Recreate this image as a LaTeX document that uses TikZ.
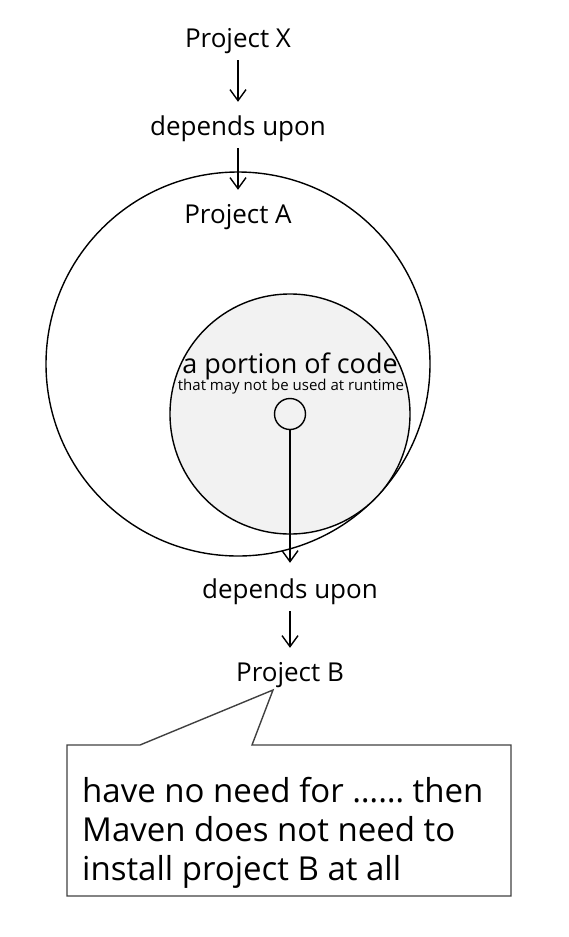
\documentclass[tikz,border=0pt]{standalone}
\usepackage{fontspec}
\setmainfont{Open Sans}
\usetikzlibrary{arrows.meta,calc}

\begin{document}
\begin{tikzpicture}[x=1pt, y=-1pt]
	% Define custom styles to make the code cleaner and more reusable.
	\tikzset{
		label/.style={inner sep=0pt, font=\fontsize{26}{30}\selectfont, text height=19pt, text depth=6pt, anchor=base},
		small/.style={inner sep=0pt, font=\fontsize{15}{18}\selectfont, anchor=base},
		proj/.style={draw, circle, line width=1.4pt, inner sep=0pt},
		line/.style={-{Straight Barb[length=11pt, width=16pt]}, line width=1.4pt, shorten <=7pt, shorten >=14pt},
		callout/.style={draw=black!75, line width=1.4pt}
	}
	\useasboundingbox (0,0) rectangle (568,937);

	% === CIRCLES ===
	\node[proj, minimum size=384pt] (projA) at (238,364) {};
	\node[proj, minimum size=240pt, fill=black!5] (portion) at (290,414) {};
	\node[proj, minimum size=31pt, fill=black!5] (code) at (290,414) {};

	% === NODES ===
	\node[label] (projX) at (238,47) {Project X};
	\node[label] (dep1) at (238,135) {depends upon};
	\node[label] (nameA) at (238,223) {Project A};
	\node[label, font=\fontsize{27}{30}\selectfont] (portionT) at (290,373) {a portion of code};
	\node[small] (runtime) at (291,390) {that may not be used at runtime};
	\node[label] (dep2) at (290,598) {depends upon};
	\node[label] (projB) at (290,681) {Project B};
	\coordinate (tip) at (273,690);
	% the base anchor of a multi-line node sits on its last line
	\node[anchor=base west, inner sep=0pt, align=left, font=\fontsize{33}{39}\selectfont] (note) at (82,880)
		{have no need for …… then\\Maven does not need to\\install project B at all};

	% === CONNECTIONS ===
	\draw[line] (projX) -- (dep1);
	\draw[line] (dep1) -- (nameA);
	\draw[line, shorten <=0pt, shorten >=16pt] (code.south) -- (dep2.north);
	\draw[line] (dep2) -- (projB);
	\draw[callout] (67,745) -- (140,745) -- (tip) -- (252,745) -- (511,745) -- (511,896) -- (67,896) -- cycle;
\end{tikzpicture}
\end{document}
